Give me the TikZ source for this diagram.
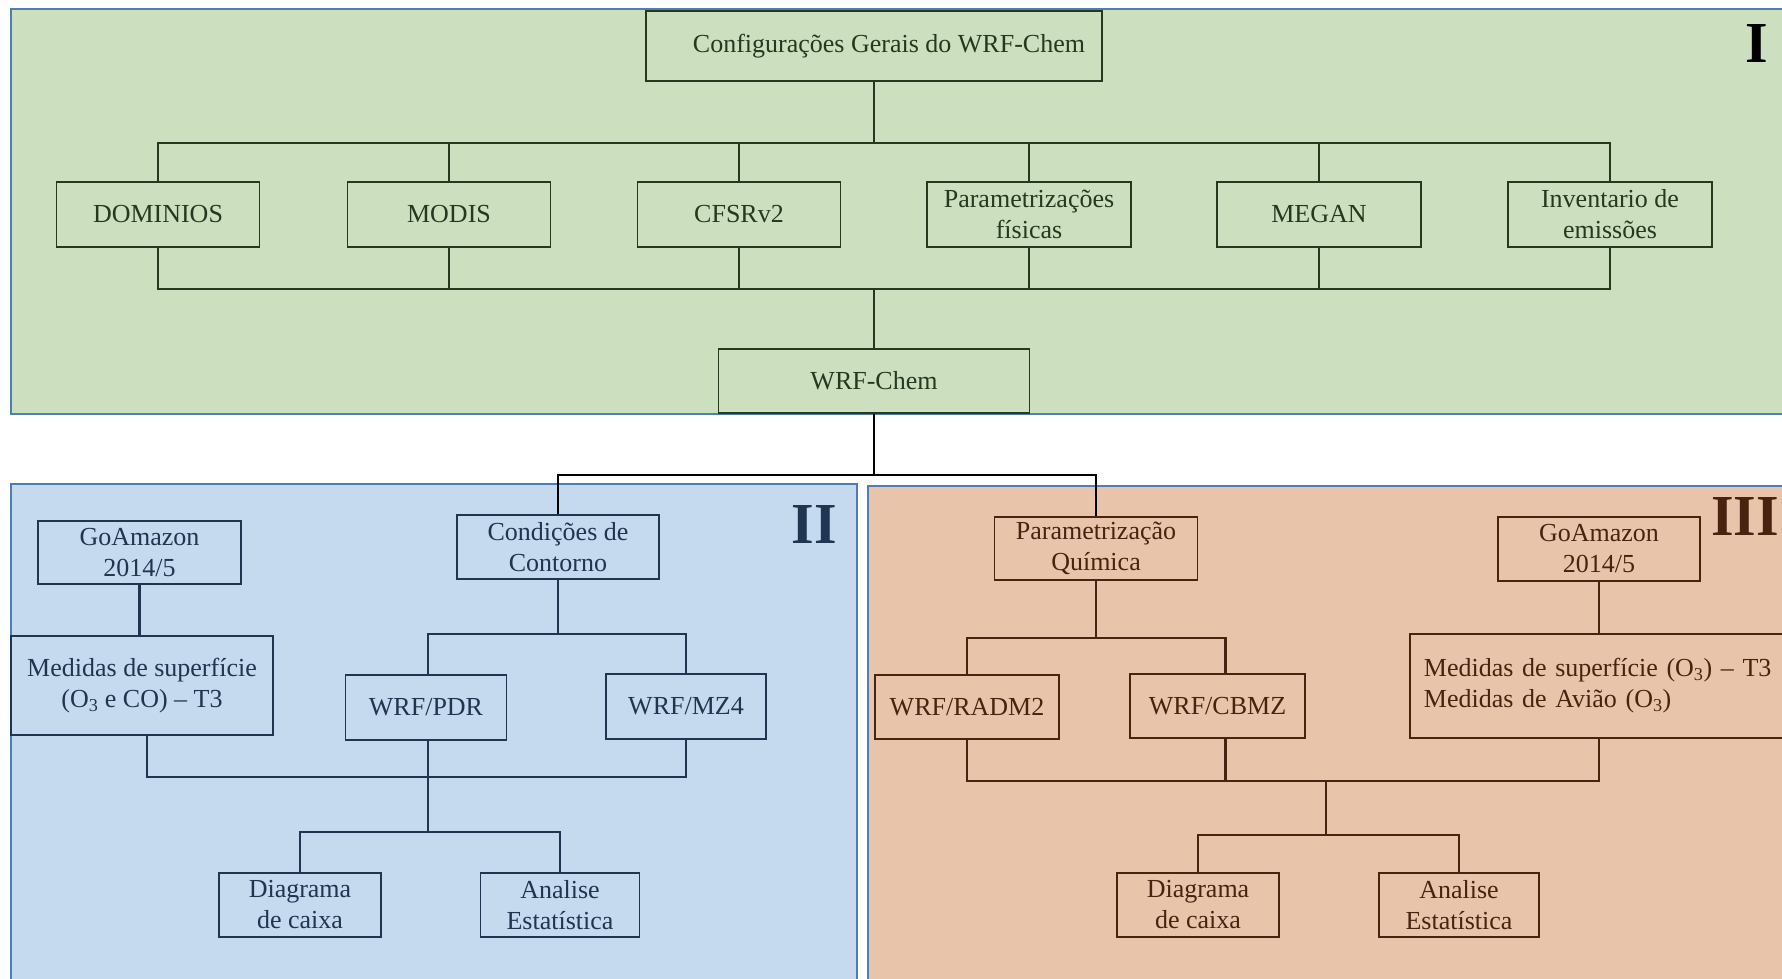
\documentclass[tikz,border=0pt]{standalone}
\usepackage{fontspec}
\setmainfont{Liberation Serif}
\usetikzlibrary{positioning, calc}

\definecolor{fundoVerde}{HTML}{CCE0C0}
\definecolor{fundoAzul}{HTML}{C5DAEE}
\definecolor{fundoMarrom}{HTML}{E8C4AA}
\definecolor{bordaPainel}{HTML}{4F7FB2}
\definecolor{tracoVerde}{HTML}{28381F}
\definecolor{tracoAzul}{HTML}{1F3550}
\definecolor{tracoMarrom}{HTML}{4A2310}

\begin{document}
\begin{tikzpicture}[x=1pt, y=-1pt, line width=2.4pt,
    caixa/.style={draw, rectangle, line width=1.8pt, align=center, inner sep=2pt,
      font=\fontsize{26}{31}\selectfont},
    verde/.style={caixa, fill=fundoVerde, draw=tracoVerde, text=tracoVerde},
    azul/.style={caixa, fill=fundoAzul, draw=tracoAzul, text=tracoAzul},
    marrom/.style={caixa, fill=fundoMarrom, draw=tracoMarrom, text=tracoMarrom},
    painel/.style={draw=bordaPainel, line width=1.6pt},
    numero/.style={font=\fontsize{58}{60}\selectfont\bfseries}]
  \useasboundingbox (0,0) rectangle (1782,979);
  \clip (0,0) rectangle (1782,979);

  % paineis
  \filldraw[painel, fill=fundoVerde] (11,9) rectangle (1800,414);
  \filldraw[painel, fill=fundoAzul] (11,484) rectangle (857,1000);
  \filldraw[painel, fill=fundoMarrom] (868,486) rectangle (1800,1000);

  \node[numero, text=black] (numI) at (1757,44) {I};
  \node[numero, text=tracoAzul] (numII) at (814,525) {II};
  \node[numero, text=tracoMarrom] (numIII) at (1745,517) {III};

  % painel I
  \node[verde, minimum width=456, minimum height=70] (cfg) at (874,46) {\hspace*{30pt}Configurações Gerais do WRF-Chem};
  \node[verde, minimum width=203, minimum height=65] (dom) at (158,214.5) {DOMINIOS};
  \node[verde, minimum width=203, minimum height=65] (modis) at (449,214.5) {MODIS};
  \node[verde, minimum width=203, minimum height=65] (cfsr) at (739,214.5) {CFSRv2};
  \node[verde, minimum width=204, minimum height=65] (param) at (1029,214.5) {Parametrizações\\físicas};
  \node[verde, minimum width=204, minimum height=65] (megan) at (1319,214.5) {MEGAN};
  \node[verde, minimum width=204, minimum height=65] (inv) at (1610,214.5) {Inventario de\\emissões};
  \node[verde, minimum width=311, minimum height=64] (wrf) at (874,381) {WRF-Chem};

  \coordinate (busA) at (874,143);
  \coordinate (busB) at (874,289);
  \coordinate (tj) at (874,475);

  \begin{scope}[draw=tracoVerde]
    \draw (cfg) -- (busA);
    \foreach \n in {dom, modis, cfsr, param, megan, inv} {
      \draw (\n.north) |- (busA);
      \draw (\n.south) |- (busB);
    }
    \draw (busB) -- (wrf);
  \end{scope}

  % painel II
  \node[azul, minimum width=203, minimum height=63] (go1) at (139.5,552.5) {GoAmazon\\2014/5};
  \node[azul, minimum width=262, minimum height=99] (med1) at (142,685.5) {Medidas de superfície\\(O\textsubscript{3} e CO) – T3};
  \node[azul, minimum width=202, minimum height=64] (cc) at (558,547) {Condições de\\Contorno};
  \node[azul, minimum width=161, minimum height=65] (pdr) at (426,707.5) {WRF/PDR};
  \node[azul, minimum width=160, minimum height=65] (mz4) at (686,706.5) {WRF/MZ4};
  \node[azul, minimum width=162, minimum height=64] (dc1) at (300,905) {Diagrama\\de caixa};
  \node[azul, minimum width=159, minimum height=64] (ae1) at (560,905) {Analise\\Estatística};

  % painel III
  \node[marrom, minimum width=203, minimum height=63] (pq) at (1096,548.5) {Parametrização\\Química};
  \node[marrom, minimum width=184, minimum height=64] (radm) at (967,707) {WRF/RADM2};
  \node[marrom, minimum width=175, minimum height=64] (cbmz) at (1217.5,706) {WRF/CBMZ};
  \node[marrom, minimum width=202, minimum height=64] (go2) at (1599,549) {GoAmazon\\2014/5};
  \node[marrom, text width=372pt, minimum height=104, anchor=west, align=left, inner xsep=14pt]
    (med2) at (1409,686) {Medidas de superfície (O\textsubscript{3}) – T3\\Medidas de Avião (O\textsubscript{3})};
  \node[marrom, minimum width=162, minimum height=64] (dc2) at (1198,905) {Diagrama\\de caixa};
  \node[marrom, minimum width=160, minimum height=64] (ae2) at (1459,905) {Analise\\Estatística};

  % ligacao entre paineis
  \draw[black] (wrf) -- (tj);
  \draw[black] (cc.north) |- (tj);
  \draw[black] (pq.north) |- (tj);

  \coordinate (b1) at (558,634);
  \coordinate (b2) at (428,777);
  \coordinate (b3) at (428,832);
  \begin{scope}[draw=tracoAzul]
    \draw (go1.south) -- (go1.south |- med1.north);
    \draw (cc) -- (b1);
    \draw (b2 |- pdr.north) |- (b1);
    \draw (mz4.north) |- (b1);
    \draw ($(med1.south)+(5,0)$) |- (b2);
    \draw (mz4.south) |- (b2);
    \draw (b2 |- pdr.south) -- (b3);
    \draw (dc1.north) |- (b3);
    \draw (ae1.north) |- (b3);
  \end{scope}

  \coordinate (c1) at (1096,638);
  \coordinate (c2) at (1326,781);
  \coordinate (c3) at (1326,835);
  \begin{scope}[draw=tracoMarrom]
    \draw (go2.south) -- (go2.south |- med2.north);
    \draw (pq) -- (c1);
    \draw (radm.north) |- (c1);
    \draw ($(cbmz.north)+(8,0)$) |- (c1);
    \draw (radm.south) |- (c2);
    \draw ($(cbmz.south)+(8,0)$) |- (c2);
    \draw (go2.south |- med2.south) |- (c2);
    \draw (c2) -- (c3);
    \draw (dc2.north) |- (c3);
    \draw (ae2.north) |- (c3);
  \end{scope}
\end{tikzpicture}
\end{document}
